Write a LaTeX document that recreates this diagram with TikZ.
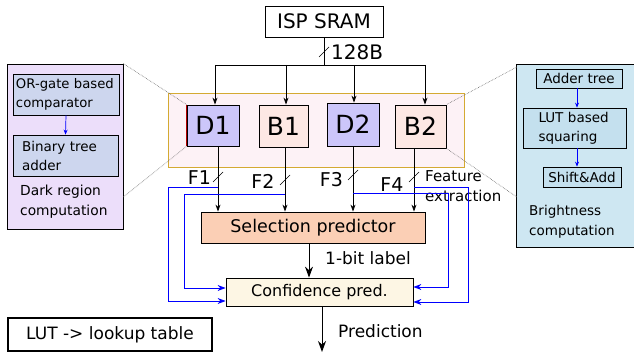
\documentclass[tikz,border=0pt]{standalone}
\usepackage{fontspec}
\setmainfont{DejaVu Sans}
\usetikzlibrary{arrows.meta}
\definecolor{purplebg}{RGB}{236,222,250}
\definecolor{steel}{RGB}{205,214,238}
\definecolor{dfill}{RGB}{204,198,250}
\definecolor{bfill}{RGB}{253,232,228}
\definecolor{contfill}{RGB}{253,242,246}
\definecolor{gold}{RGB}{212,170,50}
\definecolor{selfill}{RGB}{251,207,181}
\definecolor{conffill}{RGB}{253,246,228}
\definecolor{tealbg}{RGB}{206,231,242}
\definecolor{tealin}{RGB}{196,224,238}
\begin{document}
\begin{tikzpicture}[x=1pt,y=-1pt,
  box/.style={draw, line width=0.8pt, inner sep=0pt},
  ar/.style={-{Stealth[length=7pt,width=5pt]}, line width=0.8pt},
  bar/.style={-{Stealth[length=8pt,width=6pt]}, blue, line width=0.9pt},
  big/.style={-{Stealth[length=11pt,width=8pt]}, line width=1pt},
  dot/.style={gray!80!black, densely dotted, line width=0.6pt},
  slash/.style={line width=0.7pt}]
\useasboundingbox (0,0) rectangle (634,352);

% ISP SRAM
\node[box, minimum width=118pt, minimum height=31pt, font=\fontsize{20}{24}\selectfont] (sram) at (324,21.5) {ISP SRAM};
\coordinate (h1) at (215,65);
\coordinate (h2) at (286,65);
\coordinate (h3) at (354,65);
\coordinate (h4) at (425,65);
\draw[line width=0.8pt] (sram.south) -- (sram.south |- h1);
\draw[line width=0.8pt] (h1) -- (h4);
\coordinate (s0) at (sram.south |- 0,52);
\draw[slash] ([shift={(-5,5)}]s0) -- ([shift={(5,-5)}]s0);
\node[anchor=west, inner sep=0pt, font=\fontsize{20}{24}\selectfont] (lbl128) at (331,52) {128B};

% left purple box
\node[fill=purplebg, draw, line width=0.8pt, minimum width=116pt, minimum height=165pt, inner sep=0pt] (pbox) at (65,146.5) {};
\node[box, fill=steel, minimum width=106pt, minimum height=41pt, text width=100pt, inner xsep=3pt, align=left, font=\fontsize{13.2}{19}\selectfont] (orgate) at (66,94.5) {OR-gate based\\comparator};
\node[box, fill=steel, minimum width=105pt, minimum height=41pt, text width=87pt, inner xsep=9pt, align=left, font=\fontsize{13.5}{19}\selectfont] (btree) at (65.5,155.5) {Binary tree\\adder};
\draw[-{Stealth[length=5pt,width=4pt]}, blue, line width=0.7pt] (orgate.south) -- (btree.north);
\node[anchor=west, inner sep=0pt, align=left, font=\fontsize{13.8}{20}\selectfont] (dark) at (20,202) {Dark region\\computation};

% right teal box
\node[fill=tealbg, minimum width=123pt, minimum height=182pt, inner sep=0pt] (tbox) at (578.5,156) {};
\draw[line width=0.8pt] (tbox.north east) -- (tbox.north west) -- (tbox.south west) -- (tbox.south east);
\node[box, fill=tealin, minimum width=86pt, minimum height=19pt, font=\fontsize{13.5}{19}\selectfont] (adder) at (579,78.5) {Adder tree};
\node[box, fill=tealin, minimum width=103pt, minimum height=40pt, text width=72pt, inner xsep=15.5pt, align=left, font=\fontsize{13.5}{19}\selectfont] (lutsq) at (574.5,128) {LUT based\\squaring};
\node[box, fill=tealin, minimum width=78pt, minimum height=20pt, font=\fontsize{13.5}{19}\selectfont] (shift) at (582,177) {Shift\&Add};
\coordinate (tx) at (577,0);
\draw[-{Stealth[length=5pt,width=4pt]}, blue, line width=0.7pt] (tx |- adder.south) -- (tx |- lutsq.north);
\draw[-{Stealth[length=5pt,width=4pt]}, blue, line width=0.7pt] (tx |- lutsq.south) -- (tx |- shift.north);
\node[anchor=west, inner sep=0pt, align=left, font=\fontsize{13.5}{20}\selectfont] (bright) at (529,222) {Brightness\\computation};

% container
\node[draw=gold, fill=contfill, line width=0.8pt, minimum width=296pt, minimum height=74pt, inner sep=0pt] (cont) at (316,130) {};

% boxes
\node[box, fill=dfill, minimum width=52pt, minimum height=41pt, font=\fontsize{25}{30}\selectfont] (D1) at (213,125.5) {D1};
\node[box, fill=bfill, minimum width=49pt, minimum height=42pt, font=\fontsize{25}{30}\selectfont] (B1) at (283.5,126) {B1};
\node[box, fill=dfill, minimum width=52pt, minimum height=43pt, font=\fontsize{25}{30}\selectfont] (D2) at (353,124.5) {D2};
\node[box, fill=bfill, minimum width=51pt, minimum height=43pt, font=\fontsize{25}{30}\selectfont] (B2) at (420.5,126.5) {B2};
\draw[red!70!black, line width=0.6pt] (D1.north west) -- (D1.south west);

% dotted zoom lines
\coordinate (pl) at (pbox.east |- 0,197);
\coordinate (tl) at (tbox.west |- 0,197);
\coordinate (tt) at (tbox.west |- 0,67);
\draw[dot] (pbox.north east) -- (D1.north west);
\draw[dot] (pl) -- (D1.south west);
\draw[dot] (tt) -- (B2.north east);
\draw[dot] (tl) -- (B2.south east);

% drops
\draw[ar] (h1) -- (h1 |- D1.north);
\draw[ar] (h2) -- (h2 |- B1.north);
\draw[ar] (h3) -- (h3 |- D2.north);
\draw[ar] (h4) -- (h4 |- B2.north);

% selection & confidence
\node[box, fill=selfill, minimum width=224pt, minimum height=31pt, font=\fontsize{17.5}{21}\selectfont] (sel) at (313,227.5) {Selection predictor};
\node[box, fill=conffill, minimum width=187pt, minimum height=28pt, font=\fontsize{16}{20}\selectfont] (conf) at (319.5,292) {Confidence pred.};

\coordinate (v1) at (218,200);
\coordinate (v2) at (285,200);
\coordinate (v3) at (353,200);
\coordinate (v4) at (414,200);
\draw[ar] (v1 |- D1.south) -- (v1 |- sel.north);
\draw[ar] (v2 |- B1.south) -- (v2 |- sel.north);
\draw[ar] (v3 |- D2.south) -- (v3 |- sel.north);
\draw[ar] (v4 |- B2.south) -- (v4 |- sel.north);

\foreach \c/\y in {v1/177,v2/180,v3/175,v4/177}{
  \draw[slash] ([shift={(-5,5)}]\c |- 0,\y) -- ([shift={(5,-5)}]\c |- 0,\y);
}
\node[inner sep=0pt, font=\fontsize{19}{23}\selectfont] (F1) at (199.5,178) {F1};
\node[inner sep=0pt, font=\fontsize{19}{23}\selectfont] (F2) at (263,181) {F2};
\node[inner sep=0pt, font=\fontsize{19}{23}\selectfont] (F3) at (331.5,180) {F3};
\node[inner sep=0pt, font=\fontsize{19}{23}\selectfont] (F4) at (392,185) {F4};
\node[anchor=west, inner sep=0pt, align=left, font=\fontsize{15}{20}\selectfont] (feat) at (425,186) {Feature\\extraction};

% blue feedback
\coordinate (b1) at (168,301);
\coordinate (b2) at (184,288);
\coordinate (b3) at (448,287);
\coordinate (b4) at (468,302);
\draw[bar] (v1 |- 0,187) -| (b1) -- (conf.west |- b1);
\draw[bar] (v2 |- 0,194) -| (b2) -- (conf.west |- b2);
\draw[bar] (v3 |- 0,193) -| (b3) -- (conf.east |- b3);
\draw[bar] (v4 |- 0,187) -| (b4) -- (conf.east |- b4);

% output arrows
\coordinate (c1) at (309,260);
\draw[big] (c1 |- sel.south) -- (c1 |- conf.north);
\node[anchor=west, inner sep=0pt, font=\fontsize{17}{21}\selectfont] (onebit) at (325,258) {1-bit label};
\coordinate (pend) at (322,352);
\draw[big] (pend |- conf.south) -- (pend);
\node[anchor=west, inner sep=0pt, font=\fontsize{17}{21}\selectfont] (pred) at (338,331) {Prediction};

% LUT legend
\node[draw, line width=1.2pt, minimum width=204pt, minimum height=33pt, inner sep=0pt, font=\fontsize{17}{21}\selectfont] (lut) at (110,334.5) {LUT -> lookup table};
\end{tikzpicture}
\end{document}
